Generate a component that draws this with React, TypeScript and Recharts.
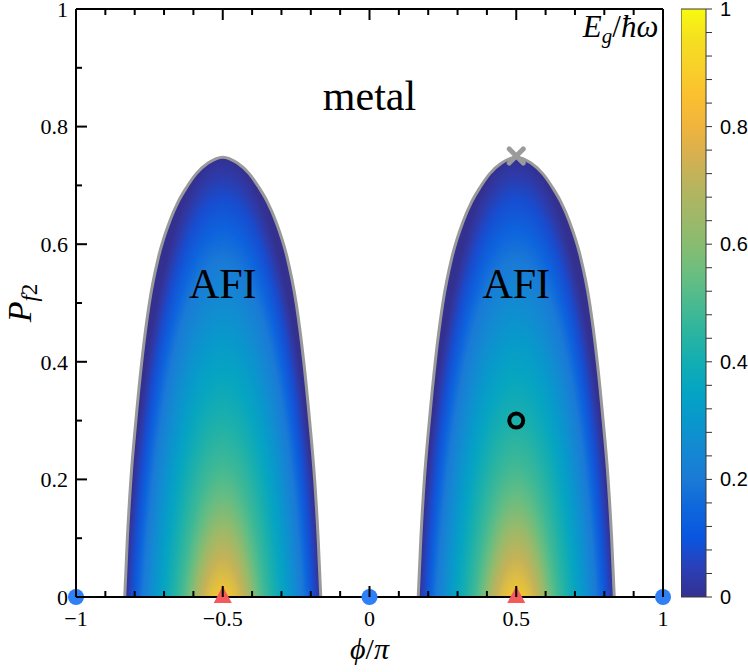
import React from 'react';
import { ComposedChart, Area, Scatter, Bar, XAxis, YAxis, Label } from 'recharts';

// AFI dome boundary: offset from dome centre (phi/pi) and height P_f2
const domeCentres = [-0.5, 0.5];
const domeOffset = [-0.334, -0.325, -0.313, -0.296, -0.276, -0.25, -0.218, -0.18, -0.152, -0.124, -0.09, -0.05, 0,
  0.05, 0.09, 0.124, 0.152, 0.18, 0.218, 0.25, 0.276, 0.296, 0.313, 0.325, 0.334];
const domeP = [0, 0.1, 0.2, 0.3, 0.4, 0.5, 0.58, 0.64, 0.672, 0.696, 0.72, 0.738, 0.748,
  0.738, 0.72, 0.696, 0.672, 0.64, 0.58, 0.5, 0.4, 0.3, 0.2, 0.1, 0];

// gap E_g/hw inside a dome against normalised (elliptic) distance from the peak
const gapRadius = [0, 0.28, 0.35, 0.4, 0.45, 0.5, 0.57, 0.64, 0.7, 0.76, 0.83, 0.88, 0.93, 0.97, 1];
const gapValue = [0.95, 0.88, 0.72, 0.63, 0.54, 0.48, 0.42, 0.36, 0.31, 0.26, 0.2, 0.14, 0.08, 0.03, 0];

// colour map (parula-like)
const cmapValue = [0, 0.05, 0.1, 0.15, 0.2, 0.25, 0.3, 0.35, 0.4, 0.45, 0.5, 0.55, 0.6, 0.65, 0.7, 0.75, 0.8, 0.85, 0.9, 0.95, 1];
const cmapColor = ['#34308f', '#2a40b8', '#0a55e0', '#0e66dc', '#1a7ad6', '#1488d2', '#0898cc', '#04a4c4', '#12aeb2',
  '#2bb4a0', '#4aba90', '#6abe80', '#88bc70', '#a0b868', '#b8b45e', '#d6b050', '#f0b43e', '#fbbf30', '#f8d02a', '#f5e020', '#f8fa0f'];

// markers
const gaplessPhi = [-1, 0, 1];
const peakPhi = [-0.5, 0.5];
const criticalPoint = [{ phi: 0.5, P: 0.75 }];
const chosenPoint = [{ phi: 0.5, P: 0.3 }];

// region labels
const regionText = ['metal', 'AFI', 'AFI'];
const regionPhi = [0, -0.5, 0.5];
const regionP = [0.828, 0.508, 0.508];

// ticks
const xTicks = [-1, -0.9, -0.8, -0.7, -0.6, -0.5, -0.4, -0.3, -0.2, -0.1, 0, 0.1, 0.2, 0.3, 0.4, 0.5, 0.6, 0.7, 0.8, 0.9, 1];
const xMajor = [-1, -0.5, 0, 0.5, 1];
const yTicks = [0, 0.1, 0.2, 0.3, 0.4, 0.5, 0.6, 0.7, 0.8, 0.9, 1];
const yMajor = [0, 0.2, 0.4, 0.6, 0.8, 1];
const cbTicks = [0, 0.04, 0.08, 0.12, 0.16, 0.2, 0.24, 0.28, 0.32, 0.36, 0.4, 0.44, 0.48, 0.52, 0.56, 0.6,
  0.64, 0.68, 0.72, 0.76, 0.8, 0.84, 0.88, 0.92, 0.96, 1];
const cbMajor = [0, 0.2, 0.4, 0.6, 0.8, 1];

const serif = '"Liberation Serif", "DejaVu Serif", serif';
const sans = '"Liberation Sans", Arial, sans-serif';
const axisStyle = { stroke: '#000', strokeWidth: 2 };

// table for the two dome areas
const domeRows: any[] = [];
domeCentres.forEach((c, k) => {
  domeOffset.forEach((d, i) => {
    const row: any = { phi: +(c + d).toFixed(4) };
    row[k === 0 ? 'left' : 'right'] = domeP[i];
    domeRows.push(row);
  });
});
const gaplessRows = gaplessPhi.map((phi) => ({ phi, P: 0 }));
const peakRows = peakPhi.map((phi) => ({ phi, P: 0 }));
const regionRows = regionText.map((text, i) => ({ phi: regionPhi[i], P: regionP[i], text }));
const gapLabelRow = [{ phi: 0.984, P: 0.952 }];
const cbRows = [{ name: 'Eg', top: 1 }];

const hexRgb = (h: string) => [1, 3, 5].map((i) => parseInt(h.slice(i, i + 2), 16));
const colourAt = (v: number) => {
  let i = 0;
  while (i < cmapValue.length - 2 && v > cmapValue[i + 1]) i++;
  const t = Math.min(1, Math.max(0, (v - cmapValue[i]) / (cmapValue[i + 1] - cmapValue[i])));
  const a = hexRgb(cmapColor[i]);
  const b = hexRgb(cmapColor[i + 1]);
  return `rgb(${a.map((x, j) => Math.round(x + (b[j] - x) * t)).join(',')})`;
};

// gradient ellipse (in phi / P units), centred below the axis
const domeHalf = 0.334;
const domeTop = 0.748;
const gradDepth = 0.3;
const gradRx = 0.349;
const gradRy = 1.05;
const gcy = (domeTop + gradDepth) / domeTop;
const grx = gradRx / (2 * domeHalf);
const gry = gradRy / domeTop;

const isMajor = (list: number[], v: number) => list.some((m) => Math.abs(m - v) < 1e-6);
const fmt = (v: number) => String(v).replace('-', '\u2212');

const bottomTick = (p: any) => {
  const major = isMajor(xMajor, p.payload.value);
  return (
    <g>
      <line x1={p.x} y1={p.y} x2={p.x} y2={p.y - (major ? 11 : 6)} stroke="#000" strokeWidth={2} />
      {major && (
        <text x={p.x} y={p.y + 29} textAnchor="middle" fontSize={22} fontFamily={serif} fill="#000">
          {fmt(p.payload.value)}
        </text>
      )}
    </g>
  );
};
const topTick = (p: any) => {
  const major = isMajor(xMajor, p.payload.value);
  return <line x1={p.x} y1={p.y} x2={p.x} y2={p.y + (major ? 11 : 6)} stroke="#000" strokeWidth={2} />;
};
const leftTick = (p: any) => {
  const major = isMajor(yMajor, p.payload.value);
  return (
    <g>
      <line x1={p.x} y1={p.y} x2={p.x + (major ? 11 : 6)} y2={p.y} stroke="#000" strokeWidth={2} />
      {major && (
        <text x={p.x - 8} y={p.y} dy="0.35em" textAnchor="end" fontSize={22} fontFamily={serif} fill="#000">
          {fmt(p.payload.value)}
        </text>
      )}
    </g>
  );
};
const rightTick = (p: any) => {
  const major = isMajor(yMajor, p.payload.value);
  return <line x1={p.x} y1={p.y} x2={p.x - (major ? 11 : 6)} y2={p.y} stroke="#000" strokeWidth={2} />;
};
const cbTick = (p: any) => {
  const major = isMajor(cbMajor, p.payload.value);
  return (
    <g>
      <line x1={p.x} y1={p.y} x2={p.x + 6} y2={p.y} stroke="#333" strokeWidth={1} />
      {major && (
        <text x={p.x + 14} y={p.y} dy="0.35em" textAnchor="start" fontSize={20} fontFamily={sans} fill="#000">
          {String(p.payload.value)}
        </text>
      )}
    </g>
  );
};

const xLabel = (p: any) => {
  const vb = p.viewBox;
  return (
    <text x={vb.x + vb.width / 2} y={vb.y + 62} textAnchor="middle" fontSize={30} fontFamily={serif} fill="#000">
      <tspan fontStyle="italic">{'\u03d5'}</tspan>
      <tspan>/</tspan>
      <tspan fontStyle="italic">{'\u03c0'}</tspan>
    </text>
  );
};
const yLabel = (p: any) => {
  const vb = p.viewBox;
  const x = vb.x - 5;
  const y = vb.y + vb.height / 2;
  return (
    <text x={x} y={y} transform={`rotate(-90 ${x} ${y})`} textAnchor="middle" fontSize={34} fontFamily={serif} fill="#000">
      <tspan fontStyle="italic">P</tspan>
      <tspan fontSize={23} dy={6} fontStyle="italic">f</tspan>
      <tspan fontSize={23}>2</tspan>
    </text>
  );
};

const blueDot = (p: any) => <circle cx={p.cx} cy={p.cy} r={8} fill="#2f7ff6" />;
const redTriangle = (p: any) => (
  <polygon points={`${p.cx},${p.cy - 11} ${p.cx - 9},${p.cy + 6} ${p.cx + 9},${p.cy + 6}`} fill="#f45a5a" />
);
const greyCross = (p: any) => (
  <g stroke="#9b9b9b" strokeWidth={5} strokeLinecap="round">
    <line x1={p.cx - 7} y1={p.cy - 7} x2={p.cx + 7} y2={p.cy + 7} />
    <line x1={p.cx - 7} y1={p.cy + 7} x2={p.cx + 7} y2={p.cy - 7} />
  </g>
);
const ring = (p: any) => <circle cx={p.cx} cy={p.cy} r={7} fill="none" stroke="#000" strokeWidth={4} />;
const regionLabel = (p: any) => (
  <text x={p.cx} y={p.cy} textAnchor="middle" fontSize={42} fontFamily={serif} fill="#000">
    {p.payload.text}
  </text>
);
const gapLabel = (p: any) => (
  <text x={p.cx} y={p.cy} textAnchor="end" fontSize={31} fontFamily={serif} fill="#000">
    <tspan fontStyle="italic">E</tspan>
    <tspan fontStyle="italic" fontSize={21} dy={6}>g</tspan>
    <tspan dy={-6}>/</tspan>
    <tspan fontStyle="italic">{'\u0127\u03c9'}</tspan>
  </text>
);

const PhaseDiagram = () => (
  <ComposedChart width={748} height={672} data={domeRows} margin={{ top: 8, right: 84, bottom: 45, left: 36 }}>
    <defs>
      <radialGradient id="domeFill" cx="0" cy="0" r="1" fx="0" fy="0"
        gradientTransform={`translate(0.5 ${gcy}) scale(${grx} ${gry})`}>
        {gapRadius.map((r, i) => (
          <stop key={i} offset={r} stopColor={colourAt(gapValue[i])} />
        ))}
      </radialGradient>
    </defs>
    <Area dataKey="left" type="monotone" fill="url(#domeFill)" fillOpacity={1} stroke="#9a9a9a" strokeWidth={3}
      dot={false} activeDot={false} isAnimationActive={false} />
    <Area dataKey="right" type="monotone" fill="url(#domeFill)" fillOpacity={1} stroke="#9a9a9a" strokeWidth={3}
      dot={false} activeDot={false} isAnimationActive={false} />
    <XAxis type="number" dataKey="phi" domain={[-1, 1]} ticks={xTicks} interval={0} tick={bottomTick}
      tickLine={false} tickSize={0} tickMargin={0} height={30} axisLine={axisStyle}>
      <Label content={xLabel} />
    </XAxis>
    <XAxis xAxisId="top" orientation="top" type="number" dataKey="phi" domain={[-1, 1]} ticks={xTicks} interval={0}
      tick={topTick} tickLine={false} tickSize={0} tickMargin={0} height={1} axisLine={axisStyle} />
    <YAxis type="number" domain={[0, 1]} ticks={yTicks} interval={0} tick={leftTick} tickLine={false} tickSize={0}
      tickMargin={0} width={40} axisLine={axisStyle}>
      <Label content={yLabel} />
    </YAxis>
    <YAxis yAxisId="right" orientation="right" type="number" domain={[0, 1]} ticks={yTicks} interval={0} tick={rightTick}
      tickLine={false} tickSize={0} tickMargin={0} width={1} axisLine={axisStyle} />
    <Scatter data={regionRows} dataKey="P" shape={regionLabel} isAnimationActive={false} />
    <Scatter data={gapLabelRow} dataKey="P" shape={gapLabel} isAnimationActive={false} />
    <Scatter data={gaplessRows} dataKey="P" shape={blueDot} isAnimationActive={false} />
    <Scatter data={peakRows} dataKey="P" shape={redTriangle} isAnimationActive={false} />
    <Scatter data={criticalPoint} dataKey="P" shape={greyCross} isAnimationActive={false} />
    <Scatter data={chosenPoint} dataKey="P" shape={ring} isAnimationActive={false} />
  </ComposedChart>
);

const ColourBar = () => (
  <ComposedChart width={67} height={672} data={cbRows} margin={{ top: 9, right: 0, bottom: 75, left: 0 }} barCategoryGap={0}>
    <defs>
      <linearGradient id="cbFill" x1="0" y1="1" x2="0" y2="0">
        {cmapValue.map((v, i) => (
          <stop key={i} offset={v} stopColor={cmapColor[i]} />
        ))}
      </linearGradient>
    </defs>
    <XAxis dataKey="name" hide height={0} />
    <YAxis orientation="right" type="number" domain={[0, 1]} ticks={cbTicks} interval={0} tick={cbTick} tickLine={false}
      tickSize={0} tickMargin={0} axisLine={false} width={42} />
    <Bar dataKey="top" fill="url(#cbFill)" stroke="#3a3a3a" strokeWidth={1} isAnimationActive={false} />
  </ComposedChart>
);

export default function App() {
  return (
    <div style={{ position: 'absolute', left: 0, top: 0, width: 748, height: 672, background: '#fff' }}>
      <div style={{ position: 'absolute', left: 0, top: 0 }}>
        <PhaseDiagram />
      </div>
      <div style={{ position: 'absolute', left: 681, top: 0 }}>
        <ColourBar />
      </div>
    </div>
  );
}
